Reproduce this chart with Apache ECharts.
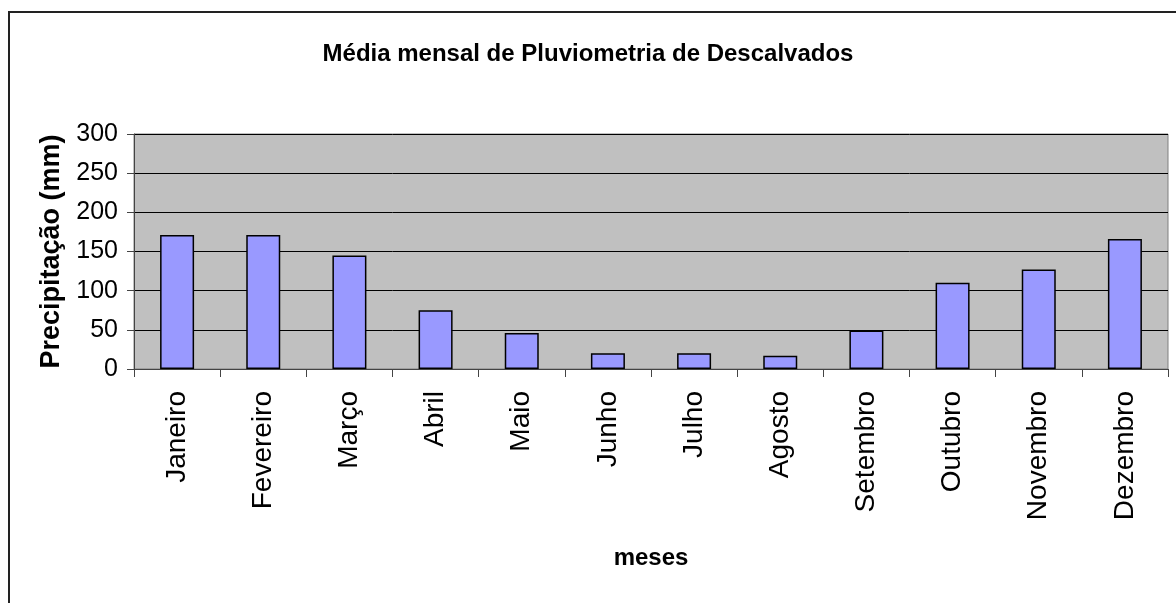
<!DOCTYPE html>
<html>
<head>
<meta charset="utf-8">
<script src="https://cdn.jsdelivr.net/npm/echarts@6/dist/echarts.min.js"></script>
<style>
  html, body { margin: 0; padding: 0; background: #fff; }
  #chart { width: 1176px; height: 603px; }
</style>
</head>
<body>
<div id="chart"></div>
<script>
// meses e precipitação média (mm)
var months = ['Janeiro', 'Fevereiro', 'Março', 'Abril', 'Maio', 'Junho',
  'Julho', 'Agosto', 'Setembro', 'Outubro', 'Novembro', 'Dezembro'];
var rainfall = [171, 171, 145, 75, 46, 20, 20, 17, 49, 110, 127, 166];
var yTicks = [0, 50, 100, 150, 200, 250, 300];

var font = '"Liberation Sans", Arial, sans-serif';
var chart = echarts.init(document.getElementById('chart'));

var option = {
  animation: false,
  backgroundColor: '#fff',
  title: {
    text: 'Média mensal de Pluviometria de Descalvados',
    left: 'center',
    top: 37,
    textStyle: { fontFamily: font, fontSize: 24, fontWeight: 'bold', color: '#000' }
  },
  // moldura externa do gráfico (só esquerda e topo aparecem)
  graphic: [{
    type: 'rect',
    shape: { x: 9, y: 12, width: 1300, height: 700 },
    style: { fill: 'none', stroke: '#222', lineWidth: 2 },
    silent: true
  }],
  grid: {
    left: 134,
    top: 134,
    right: 8,
    bottom: 234,
    show: true,
    backgroundColor: '#C0C0C0',
    borderColor: '#808080',
    borderWidth: 1
  },
  xAxis: {
    type: 'category',
    data: months,
    name: 'meses',
    nameLocation: 'middle',
    nameGap: 177,
    nameTextStyle: { fontFamily: font, fontSize: 24, fontWeight: 'bold', color: '#000' },
    axisLine: { lineStyle: { color: '#444', width: 1 } },
    axisTick: { show: true, length: 8, lineStyle: { color: '#444' } },
    axisLabel: {
      rotate: 90,
      margin: 22,
      fontFamily: font,
      fontSize: 28,
      color: '#000'
    }
  },
  yAxis: {
    type: 'value',
    min: yTicks[0],
    max: yTicks[yTicks.length - 1],
    interval: 50,
    name: 'Precipitação (mm)',
    nameLocation: 'middle',
    nameRotate: 90,
    nameGap: 68,
    nameTextStyle: { fontFamily: font, fontSize: 27, fontWeight: 'bold', color: '#000' },
    axisLine: { show: true, lineStyle: { color: '#444', width: 1 } },
    axisTick: { show: true, length: 7, lineStyle: { color: '#444' } },
    axisLabel: { margin: 16, fontFamily: font, fontSize: 25, color: '#000' },
    splitLine: { show: true, lineStyle: { color: '#000', width: 1 } }
  },
  series: [{
    type: 'bar',
    data: rainfall,
    barWidth: 34,
    itemStyle: { color: '#9999FF', borderColor: '#000', borderWidth: 1.5 }
  }]
};

chart.setOption(option);
</script>
</body>
</html>
